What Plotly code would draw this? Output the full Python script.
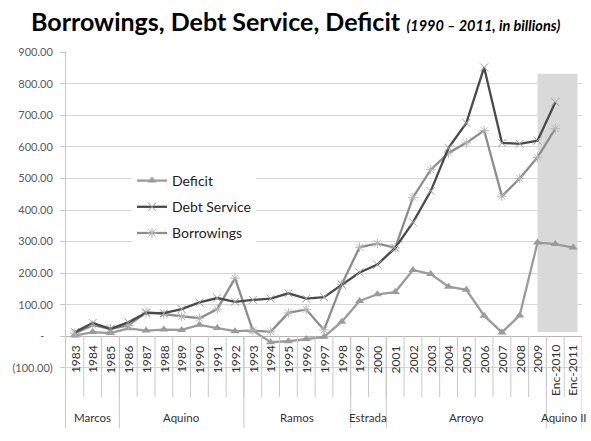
import plotly.graph_objects as go

categories = [str(y) for y in range(1983, 2010)] + ["Enc-2010", "Enc-2011"]

deficit = [2, 13, 10, 25, 18, 21, 20, 36, 26, 16, 18, -19, -16, -9, -2, 46, 112, 133, 140,
           210, 197, 157, 147, 65, 12, 66, 297, 292, 281]
debt_service = [13, 42, 23, 44, 74, 73, 86, 107, 121, 109, 115, 119, 136, 119, 124, 163, 202, 227, 280,
                361, 460, 597, 676, 852, 613, 610, 620, 742, None]
borrowings = [9, 35, 23, 34, 76, 70, 62, 57, 86, 184, 18, 14, 74, 85, 20, 165, 282, 294, 280,
              440, 528, 581, 613, 652, 444, 500, 567, 658, None]

groups = ["Marcos", "Aquino", "Ramos", "Estrada", "Arroyo", "Aquino II"]
group_sizes = [3, 7, 6, 2, 9, 2]

y_tickvals = [-100, 0, 100, 200, 300, 400, 500, 600, 700, 800, 900]
y_ticktext = ["(100.00)", "-\u00a0\u00a0\u00a0"] + [f"{v:.2f}" for v in y_tickvals[2:]]

FONT = "Lato"

fig = go.Figure()

fig.add_trace(go.Scatter(
    x=categories, y=deficit, name="Deficit", mode="lines+markers", legendgroup="a", legendrank=1,
    line=dict(color="#9b9b9b", width=2.3),
    marker=dict(symbol="triangle-up", size=8, color="#9b9b9b"),
))
fig.add_trace(go.Scatter(
    x=categories, y=borrowings, name="Borrowings", mode="lines+markers", legendgroup="c", legendrank=3,
    line=dict(color="#8c8c8c", width=2.3),
    marker=dict(symbol="asterisk", size=8, line=dict(color="#b5b5b5", width=1)),
))
fig.add_trace(go.Scatter(
    x=categories, y=debt_service, name="Debt Service", mode="lines+markers", legendgroup="b", legendrank=2,
    line=dict(color="#4a4a4a", width=2.3),
    marker=dict(symbol="x-thin", size=8, line=dict(color="#a0a0a0", width=1)),
))

# highlight box for the latest period
fig.add_shape(type="rect", xref="x", yref="y", x0=26, x1=28.25, y0=13, y1=832,
              fillcolor="#d9d9d9", line=dict(width=0), layer="between")

n = len(categories)
# short tick separators between categories
for i in range(1, n):
    fig.add_shape(type="line", xref="x", yref="y", x0=i - 0.5, x1=i - 0.5,
                  y0=0, y1=-193, line=dict(color="#c8c8c8", width=1))
# group separators
b = -0.5
bounds = [b]
for s in group_sizes:
    b += s
    bounds.append(b)
for bb in bounds[1:]:
    fig.add_shape(type="line", xref="x", yref="y", x0=bb, x1=bb,
                  y0=0, y1=-291, line=dict(color="#c8c8c8", width=1))

annotations = []
for i, c in enumerate(categories):
    annotations.append(dict(x=i, y=0, xref="x", yref="y", text=c, showarrow=False,
                            textangle=-90, yanchor="top", xanchor="center", yshift=-7,
                            font=dict(family=FONT, size=12, color="#333333")))
for g, lo, hi in zip(groups, bounds[:-1], bounds[1:]):
    annotations.append(dict(x=(lo + hi) / 2, y=-257, xref="x", yref="y", text=g,
                            showarrow=False, xanchor="center", yanchor="middle",
                            font=dict(family=FONT, size=11.5, color="#333333")))

fig.update_layout(
    width=591, height=441,
    margin=dict(l=66, r=9, t=52, b=13),
    paper_bgcolor="white", plot_bgcolor="white",
    font=dict(family=FONT),
    title=dict(
        text="<b>Borrowings, Debt Service, Deficit</b> <b><i><span style='font-size:14.5px'>(1990 – 2011, in billions)</span></i></b>",
        x=31 / 591, xanchor="left", xref="container",
        y=1 - 22 / 441, yanchor="middle", yref="container",
        font=dict(family=FONT, size=25, color="#000000"),
    ),
    xaxis=dict(type="category", categoryorder="array", categoryarray=categories,
               range=[-0.5, n - 0.5], showgrid=False, showticklabels=False,
               zeroline=False, showline=False, ticks=""),
    yaxis=dict(range=[-291, 901], tickvals=y_tickvals, ticktext=y_ticktext,
               showgrid=True, gridcolor="#d6d6d6", gridwidth=1,
               zeroline=True, zerolinecolor="#b5b5b5", zerolinewidth=1,
               showline=True, linecolor="#c8c8c8", linewidth=1,
               ticks="outside", ticklen=5, tickcolor="#c8c8c8", ticklabelstandoff=5,
               tickfont=dict(family=FONT, size=11, color="#595959")),
    legend=dict(x=(132 - 66) / 516, xanchor="left", y=(428 - 165) / 376, yanchor="top",
                bgcolor="white", font=dict(family=FONT, size=14, color="#222222"),
                tracegroupgap=5, traceorder="grouped"),
    annotations=annotations,
)

fig.write_html("out.html")
